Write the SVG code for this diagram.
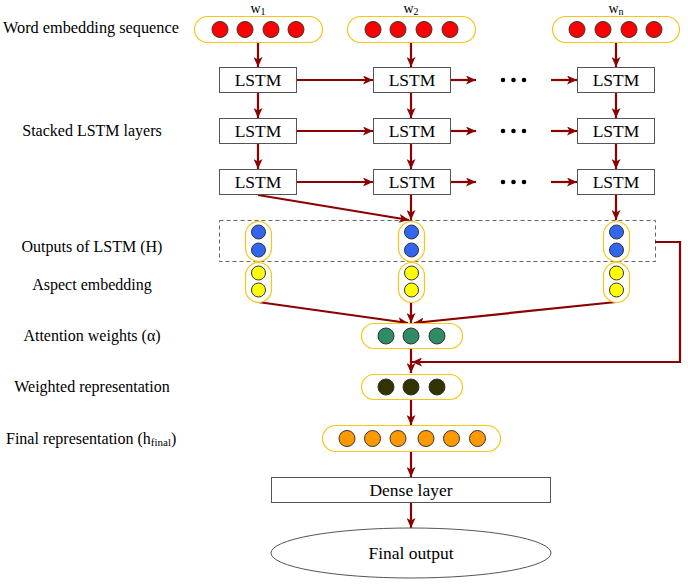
<svg xmlns="http://www.w3.org/2000/svg" width="688" height="584" viewBox="0 0 688 584">
<defs>
<marker id="ah" markerUnits="userSpaceOnUse" markerWidth="11" markerHeight="9" refX="10" refY="4.5" orient="auto">
<path d="M0,0 L10,4.5 L0,9 L2.5,4.5 z" fill="#8B0000"/>
</marker>
<style>
text{font-family:"Liberation Serif","Times New Roman",serif;fill:#000}
.lbl{font-size:16px;text-anchor:middle}
.nt{font-size:17.5px;text-anchor:middle}
.wl{font-size:14px;text-anchor:middle}
.box{fill:#fff;stroke:#555;stroke-width:1}
.pill{fill:#fff;stroke:#F5C518;stroke-width:1.2}
.c{stroke:#333;stroke-width:1}
.red{fill:#FF0000}.blue{fill:#3366EE}.yel{fill:#FFFF00}.grn{fill:#2E8B63}.dk{fill:#333300}.org{fill:#FF9900}
.ar{stroke:#8B0000;stroke-width:2.2;fill:none;marker-end:url(#ah)}
.dot{fill:#000}
</style>
</defs>
<rect width="688" height="584" fill="#fff"/>

<g id="labels">
<text x="3" y="33" style="font-size:16.3px">Word embedding sequence</text>
<text class="lbl" x="92" y="136">Stacked LSTM layers</text>
<text class="lbl" x="92" y="252">Outputs of LSTM (H)</text>
<text class="lbl" x="92" y="290">Aspect embedding</text>
<text class="lbl" x="92" y="341">Attention weights (α)</text>
<text class="lbl" x="92" y="392">Weighted representation</text>
<text x="6" y="444" style="font-size:16px">Final representation (h<tspan style="font-size:11px" dy="2">final</tspan><tspan dy="-2">)</tspan></text>
</g>

<g id="w-labels">
<text class="wl" x="258" y="12.5">w<tspan style="font-size:10px" dy="2">1</tspan></text>
<text class="wl" x="411" y="12.5">w<tspan style="font-size:10px" dy="2">2</tspan></text>
<text class="wl" x="616" y="12.5">w<tspan style="font-size:10px" dy="2">n</tspan></text>
</g>

<g id="dashed-H">
<rect x="219.5" y="220.5" width="436" height="41" fill="none" stroke="#666" stroke-width="1" stroke-dasharray="4,3"/>
</g>

<g id="connectors">
<line class="ar" x1="258" y1="42" x2="258" y2="67"/>
<line class="ar" x1="411" y1="42" x2="411" y2="67"/>
<line class="ar" x1="616" y1="42" x2="616" y2="67"/>
<line class="ar" x1="258" y1="92" x2="258" y2="118"/>
<line class="ar" x1="411" y1="92" x2="411" y2="118"/>
<line class="ar" x1="616" y1="92" x2="616" y2="118"/>
<line class="ar" x1="258" y1="144" x2="258" y2="169"/>
<line class="ar" x1="411" y1="144" x2="411" y2="169"/>
<line class="ar" x1="616" y1="144" x2="616" y2="169"/>
<line class="ar" x1="296" y1="80" x2="373" y2="80"/>
<line class="ar" x1="296" y1="131" x2="373" y2="131"/>
<line class="ar" x1="296" y1="182" x2="373" y2="182"/>
<line class="ar" x1="450" y1="80" x2="476" y2="80"/>
<line class="ar" x1="450" y1="131" x2="476" y2="131"/>
<line class="ar" x1="450" y1="182" x2="476" y2="182"/>
<line class="ar" x1="551" y1="80" x2="577" y2="80"/>
<line class="ar" x1="551" y1="131" x2="577" y2="131"/>
<line class="ar" x1="551" y1="182" x2="577" y2="182"/>
<line class="ar" x1="258" y1="195" x2="409" y2="220"/>
<line class="ar" x1="411" y1="195" x2="411" y2="220"/>
<line class="ar" x1="616" y1="195" x2="616" y2="220"/>
<line class="ar" x1="258" y1="302" x2="408" y2="323"/>
<line class="ar" x1="411" y1="302" x2="411" y2="323"/>
<line class="ar" x1="616" y1="302" x2="414" y2="323"/>
<line class="ar" x1="411" y1="348" x2="411" y2="373"/>
<polyline class="ar" points="655,242 680,242 680,362 412,362"/>
<line class="ar" x1="411" y1="399" x2="411" y2="425"/>
<line class="ar" x1="411" y1="451" x2="411" y2="477"/>
<line class="ar" x1="411" y1="502" x2="411" y2="528"/>
</g>

<g id="dots">
<circle class="dot" cx="503" cy="80" r="2.3"/><circle class="dot" cx="513.5" cy="80" r="2.3"/><circle class="dot" cx="524" cy="80" r="2.3"/>
<circle class="dot" cx="503" cy="131" r="2.3"/><circle class="dot" cx="513.5" cy="131" r="2.3"/><circle class="dot" cx="524" cy="131" r="2.3"/>
<circle class="dot" cx="503" cy="182" r="2.3"/><circle class="dot" cx="513.5" cy="182" r="2.3"/><circle class="dot" cx="524" cy="182" r="2.3"/>
</g>

<g id="emb-w1">
<rect class="pill" x="194.5" y="16.5" width="128" height="26" rx="13"/>
<circle class="c red" cx="220" cy="29.5" r="8"/><circle class="c red" cx="245" cy="29.5" r="8"/><circle class="c red" cx="271" cy="29.5" r="8"/><circle class="c red" cx="296" cy="29.5" r="8"/>
</g>
<g id="emb-w2">
<rect class="pill" x="347.5" y="16.5" width="128" height="26" rx="13"/>
<circle class="c red" cx="373" cy="29.5" r="8"/><circle class="c red" cx="398" cy="29.5" r="8"/><circle class="c red" cx="424" cy="29.5" r="8"/><circle class="c red" cx="450" cy="29.5" r="8"/>
</g>
<g id="emb-wn">
<rect class="pill" x="552.5" y="16.5" width="127" height="26" rx="13"/>
<circle class="c red" cx="577" cy="29.5" r="8"/><circle class="c red" cx="603" cy="29.5" r="8"/><circle class="c red" cx="629" cy="29.5" r="8"/><circle class="c red" cx="654" cy="29.5" r="8"/>
</g>

<g id="lstm-1-1"><rect class="box" x="219.5" y="67.5" width="77" height="25"/><text class="nt" x="258" y="86">LSTM</text></g>
<g id="lstm-1-2"><rect class="box" x="373.5" y="67.5" width="77" height="25"/><text class="nt" x="412" y="86">LSTM</text></g>
<g id="lstm-1-n"><rect class="box" x="577.5" y="67.5" width="77" height="25"/><text class="nt" x="616" y="86">LSTM</text></g>
<g id="lstm-2-1"><rect class="box" x="219.5" y="118.5" width="77" height="25"/><text class="nt" x="258" y="137">LSTM</text></g>
<g id="lstm-2-2"><rect class="box" x="373.5" y="118.5" width="77" height="25"/><text class="nt" x="412" y="137">LSTM</text></g>
<g id="lstm-2-n"><rect class="box" x="577.5" y="118.5" width="77" height="25"/><text class="nt" x="616" y="137">LSTM</text></g>
<g id="lstm-3-1"><rect class="box" x="219.5" y="169.5" width="77" height="25"/><text class="nt" x="258" y="188">LSTM</text></g>
<g id="lstm-3-2"><rect class="box" x="373.5" y="169.5" width="77" height="25"/><text class="nt" x="412" y="188">LSTM</text></g>
<g id="lstm-3-n"><rect class="box" x="577.5" y="169.5" width="77" height="25"/><text class="nt" x="616" y="188">LSTM</text></g>

<g id="h-1"><rect class="pill" x="245.5" y="221.5" width="26" height="40" rx="13"/><circle class="c blue" cx="258.5" cy="232" r="7"/><circle class="c blue" cx="258.5" cy="250" r="7"/></g>
<g id="h-2"><rect class="pill" x="398.5" y="221.5" width="26" height="40" rx="13"/><circle class="c blue" cx="411.5" cy="232" r="7"/><circle class="c blue" cx="411.5" cy="250" r="7"/></g>
<g id="h-n"><rect class="pill" x="603.5" y="221.5" width="26" height="40" rx="13"/><circle class="c blue" cx="616.5" cy="232" r="7"/><circle class="c blue" cx="616.5" cy="250" r="7"/></g>

<g id="asp-1"><rect class="pill" x="245.5" y="262.5" width="26" height="40" rx="13"/><circle class="c yel" cx="258.5" cy="273" r="7"/><circle class="c yel" cx="258.5" cy="290" r="7"/></g>
<g id="asp-2"><rect class="pill" x="398.5" y="262.5" width="26" height="40" rx="13"/><circle class="c yel" cx="411.5" cy="273" r="7"/><circle class="c yel" cx="411.5" cy="290" r="7"/></g>
<g id="asp-n"><rect class="pill" x="603.5" y="262.5" width="26" height="40" rx="13"/><circle class="c yel" cx="616.5" cy="273" r="7"/><circle class="c yel" cx="616.5" cy="290" r="7"/></g>

<g id="attention"><rect class="pill" x="361.5" y="323.5" width="101" height="25" rx="12.5"/>
<circle class="c grn" cx="386" cy="336" r="8"/><circle class="c grn" cx="411" cy="336" r="8"/><circle class="c grn" cx="437" cy="336" r="8"/></g>

<g id="weighted"><rect class="pill" x="361.5" y="374.5" width="101" height="25" rx="12.5"/>
<circle class="c dk" cx="386" cy="387" r="8"/><circle class="c dk" cx="411" cy="387" r="8"/><circle class="c dk" cx="437" cy="387" r="8"/></g>

<g id="final-rep"><rect class="pill" x="322.5" y="425.5" width="178" height="26" rx="13"/>
<circle class="c org" cx="347" cy="438.5" r="8"/><circle class="c org" cx="372.5" cy="438.5" r="8"/><circle class="c org" cx="398" cy="438.5" r="8"/><circle class="c org" cx="426" cy="438.5" r="8"/><circle class="c org" cx="451.5" cy="438.5" r="8"/><circle class="c org" cx="477.5" cy="438.5" r="8"/></g>

<g id="dense"><rect class="box" x="271.5" y="477.5" width="279" height="25"/><text class="nt" x="411" y="496">Dense layer</text></g>

<g id="output"><ellipse cx="411" cy="553" rx="140" ry="25" fill="#fff" stroke="#555" stroke-width="1"/><text class="nt" x="411" y="559">Final output</text></g>
</svg>
